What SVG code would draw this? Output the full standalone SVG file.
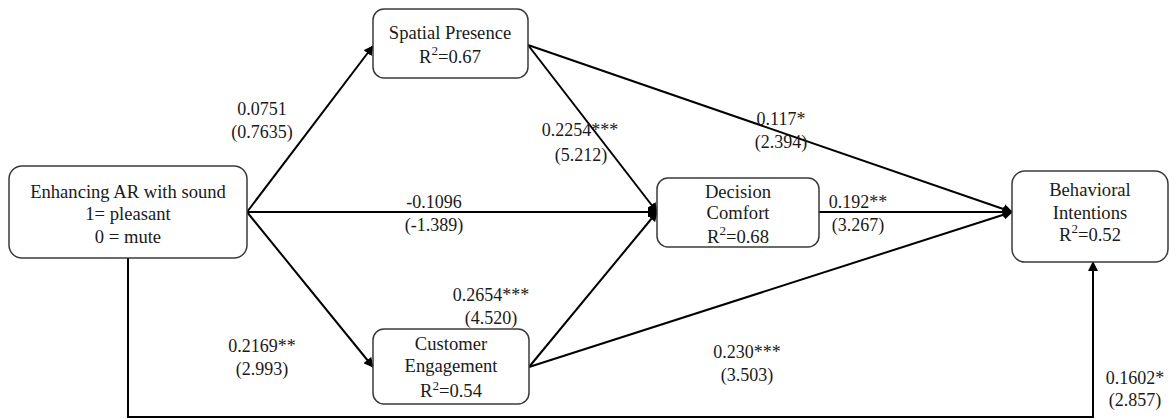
<svg xmlns="http://www.w3.org/2000/svg" width="1170" height="419" viewBox="0 0 1170 419">
  <style>
    .box { fill: #ffffff; stroke: #3a3a3a; stroke-width: 1.5; }
    .t { font-family: 'Liberation Serif', 'Times New Roman', serif; font-size: 18.6px; fill: #1a1a1a; text-anchor: middle; }
    .lbl { font-family: 'Liberation Serif', 'Times New Roman', serif; font-size: 18px; fill: #1a1a1a; text-anchor: middle; }
    .sup { font-size: 13px; }
    .edge { stroke: #000000; stroke-width: 2; fill: none; }
  </style>
  <defs>
    <marker id="arrow" viewBox="0 0 10 10" refX="9" refY="5" markerWidth="5" markerHeight="5" orient="auto-start-reverse" markerUnits="strokeWidth">
      <path d="M0,0 L10,5 L0,10 z" fill="#000000"/>
    </marker>
  </defs>

  <!-- connectors -->
  <g id="connectors">
    <line class="edge" x1="247" y1="212" x2="373" y2="46" marker-end="url(#arrow)"/>
    <line class="edge" x1="247" y1="212" x2="657" y2="212" marker-end="url(#arrow)"/>
    <line class="edge" x1="247" y1="212" x2="373" y2="367" marker-end="url(#arrow)"/>
    <line class="edge" x1="528" y1="45" x2="657" y2="212" marker-end="url(#arrow)"/>
    <line class="edge" x1="528" y1="45" x2="1012" y2="212" marker-end="url(#arrow)"/>
    <line class="edge" x1="529" y1="367" x2="657" y2="212" marker-end="url(#arrow)"/>
    <line class="edge" x1="529" y1="367" x2="1012" y2="212" marker-end="url(#arrow)"/>
    <line class="edge" x1="819" y1="212" x2="1012" y2="212" marker-end="url(#arrow)"/>
    <polyline class="edge" points="128,258 128,417 1093,417 1093,262" marker-end="url(#arrow)"/>

    <text class="lbl" x="262" y="115">0.0751</text>
    <text class="lbl" x="262" y="138">(0.7635)</text>
    <text class="lbl" x="781" y="125">0.117*</text>
    <text class="lbl" x="781" y="148">(2.394)</text>
    <text class="lbl" x="580" y="136">0.2254***</text>
    <text class="lbl" x="581" y="161">(5.212)</text>
    <text class="lbl" x="434" y="208">-0.1096</text>
    <text class="lbl" x="434" y="231">(-1.389)</text>
    <text class="lbl" x="858" y="208">0.192**</text>
    <text class="lbl" x="858" y="231">(3.267)</text>
    <text class="lbl" x="491" y="301">0.2654***</text>
    <text class="lbl" x="491" y="324">(4.520)</text>
    <text class="lbl" x="262" y="352">0.2169**</text>
    <text class="lbl" x="262" y="375">(2.993)</text>
    <text class="lbl" x="747" y="358">0.230***</text>
    <text class="lbl" x="747" y="381">(3.503)</text>
    <text class="lbl" x="1135" y="384">0.1602*</text>
    <text class="lbl" x="1135" y="406">(2.857)</text>
  </g>

  <!-- nodes -->
  <g id="source">
    <rect class="box" x="9" y="166" width="238" height="92" rx="13"/>
    <text class="t" x="128" y="198">Enhancing AR with sound</text>
    <text class="t" x="128" y="220">1= pleasant</text>
    <text class="t" x="128" y="243">0 = mute</text>
  </g>
  <g id="spatial-presence">
    <rect class="box" x="373" y="9" width="155" height="69" rx="11"/>
    <text class="t" x="450" y="39">Spatial Presence</text>
    <text class="t" x="450" y="63">R<tspan class="sup" dy="-8">2</tspan><tspan dy="8">=0.67</tspan></text>
  </g>
  <g id="customer-engagement">
    <rect class="box" x="373" y="329" width="156" height="75" rx="11"/>
    <text class="t" x="451" y="350">Customer</text>
    <text class="t" x="451" y="372">Engagement</text>
    <text class="t" x="451" y="397">R<tspan class="sup" dy="-7">2</tspan><tspan dy="7">=0.54</tspan></text>
  </g>
  <g id="decision-comfort">
    <rect class="box" x="657" y="178" width="162" height="69" rx="11"/>
    <text class="t" x="738" y="198">Decision</text>
    <text class="t" x="738" y="219">Comfort</text>
    <text class="t" x="738" y="243">R<tspan class="sup" dy="-8">2</tspan><tspan dy="8">=0.68</tspan></text>
  </g>
  <g id="behavioral-intentions">
    <rect class="box" x="1012" y="171" width="156" height="91" rx="13"/>
    <text class="t" x="1090" y="196">Behavioral</text>
    <text class="t" x="1090" y="219">Intentions</text>
    <text class="t" x="1090" y="241">R<tspan class="sup" dy="-8">2</tspan><tspan dy="8">=0.52</tspan></text>
  </g>
</svg>
